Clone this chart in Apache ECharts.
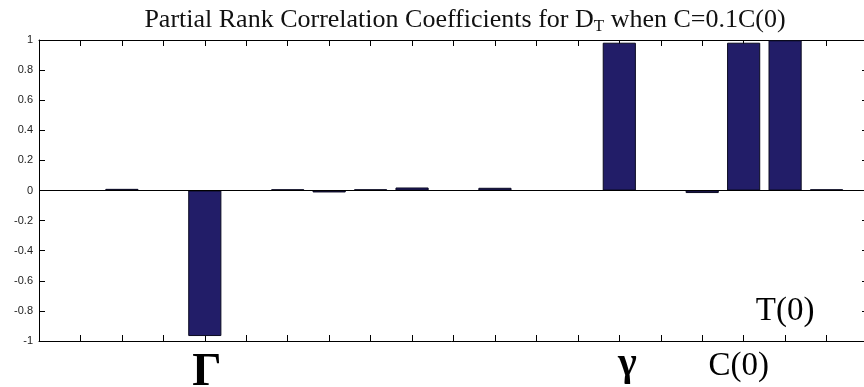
<!DOCTYPE html>
<html>
<head>
<meta charset="utf-8">
<script src="https://cdn.jsdelivr.net/npm/echarts@6/dist/echarts.min.js"></script>
<style>
html,body{margin:0;padding:0;background:#fff;}
#chart{width:864px;height:387px;}
</style>
</head>
<body>
<div id="chart"></div>
<script>
// Data
var positions = [1,2,3,4,5,6,7,8,9,10,11,12,13,14,15,16,17,18,19];
var prcc = [0, 0.011, 0, -0.967, 0, 0.008, -0.013, 0.008, 0.02, 0, 0.018, 0, 0, 0.982, 0, -0.017, 0.982, 0.998, 0.008];
var labelPositions = [4, 14, 17];
var labelTexts = ['Γ', 'γ', 'C(0)'];
var labelStyles = ['big', 'gam', 'norm'];
var insideLabelPos = [18];
var insideLabelVal = [-0.80];
var insideLabelText = ['T(0)'];

var chart = echarts.init(document.getElementById('chart'), null, {renderer: 'canvas'});

var gridLeft = 39, gridWidth = 829, xMin = 0, xMax = 20;
var barW = gridWidth / (xMax - xMin) * 0.8;

var serif = '"Liberation Serif", "DejaVu Serif", serif';

var option = {
  animation: false,
  backgroundColor: '#ffffff',
  title: {
    text: 'Partial Rank Correlation Coefficients for D{sub|T} when C=0.1C(0)',
    left: 460,
    textAlign: 'center',
    top: 1,
    textStyle: {
      fontFamily: serif,
      fontSize: 26,
      fontWeight: 'normal',
      color: '#111',
      rich: {
        sub: {fontFamily: serif, fontSize: 17, color: '#111', padding: [12, 0, 0, 0]}
      }
    }
  },
  grid: {left: gridLeft, top: 40, width: gridWidth, height: 301, outerBoundsMode: 'none', containLabel: false},
  xAxis: [
    {
      type: 'value', position: 'bottom', min: xMin, max: xMax, interval: 1,
      axisLine: {show: true, onZero: false, lineStyle: {color: '#000', width: 1}},
      axisTick: {show: true, inside: true, length: 6, lineStyle: {color: '#000'}},
      splitLine: {show: false},
      axisLabel: {
        show: true, margin: 9, interval: 0,
        formatter: function (v) {
          var i = labelPositions.indexOf(v);
          if (i < 0) return '';
          return '{' + labelStyles[i] + '|' + labelTexts[i] + '}';
        },
        rich: {
          big: {fontFamily: serif, fontSize: 46, fontWeight: 'bold', color: '#000', padding: [0, 0, 0, 4]},
          gam: {fontFamily: serif, fontSize: 40, lineHeight: 30, fontWeight: 'bold', color: '#000', padding: [0, 0, 0, 16]},
          norm: {fontFamily: serif, fontSize: 33, color: '#000', padding: [0, 10, 0, 0]}
        }
      }
    },
    {
      type: 'value', position: 'top', min: xMin, max: xMax, interval: 1,
      axisLine: {show: true, onZero: false, lineStyle: {color: '#000', width: 1}},
      axisTick: {show: true, inside: true, length: 6, lineStyle: {color: '#000'}},
      splitLine: {show: false},
      axisLabel: {show: false}
    }
  ],
  yAxis: [
    {
      type: 'value', position: 'left', min: -1, max: 1, interval: 0.2,
      axisLine: {show: true, onZero: false, lineStyle: {color: '#000', width: 1}},
      axisTick: {show: true, inside: true, length: 6, lineStyle: {color: '#000'}},
      splitLine: {show: false},
      axisLabel: {
        margin: 6, fontSize: 11, color: '#222',
        fontFamily: '"Liberation Sans", Arial, sans-serif',
        formatter: function (v) { return String(Math.round(v * 10) / 10); }
      }
    },
    {
      type: 'value', position: 'right', min: -1, max: 1, interval: 0.2,
      axisLine: {show: true, onZero: false, lineStyle: {color: '#000', width: 1}},
      axisTick: {show: true, inside: true, length: 6, lineStyle: {color: '#000'}},
      splitLine: {show: false},
      axisLabel: {show: false}
    }
  ],
  series: [
    {
      type: 'bar',
      xAxisIndex: 0, yAxisIndex: 0,
      barWidth: barW,
      data: positions.map(function (p, i) { return [p, prcc[i]]; }),
      itemStyle: {color: '#221d68', borderColor: '#0a0a20', borderWidth: 1},
      markLine: {
        silent: true, symbol: 'none',
        label: {show: false},
        lineStyle: {color: '#000', width: 1, type: 'solid'},
        data: [{yAxis: 0}]
      },
      markPoint: {
        silent: true,
        symbol: 'circle', symbolSize: 0,
        itemStyle: {color: 'transparent'},
        label: {
          show: true, position: 'inside',
          fontFamily: serif, fontSize: 33, color: '#000',
          opacity: 1
        },
        data: insideLabelPos.map(function (p, i) {
          return {coord: [p, insideLabelVal[i]], value: insideLabelText[i],
                  label: {formatter: insideLabelText[i]}};
        })
      }
    }
  ]
};
chart.setOption(option);
</script>
</body>
</html>
